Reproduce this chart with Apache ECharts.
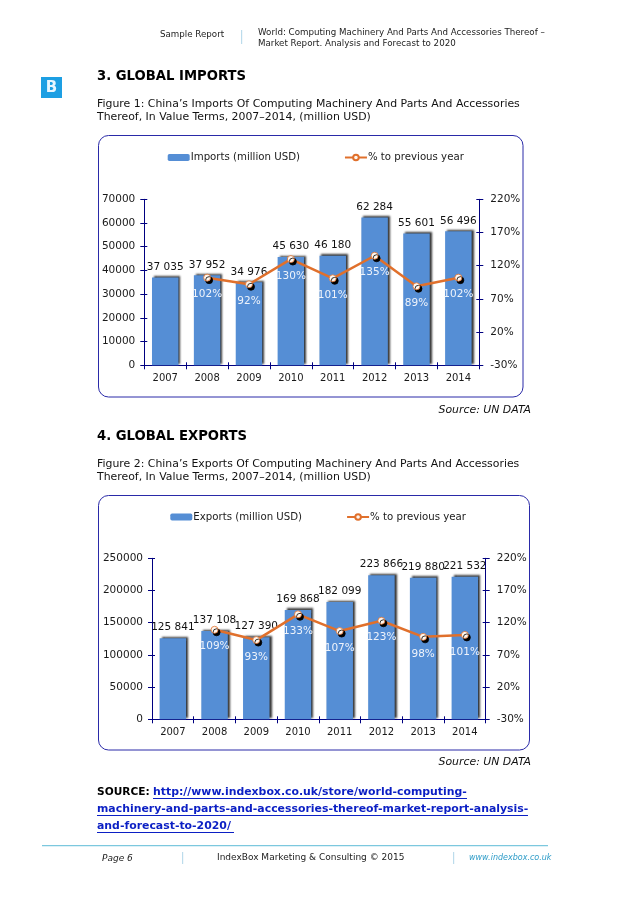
<!DOCTYPE html>
<html><head><meta charset="utf-8">
<style>html,body{margin:0;padding:0;background:#fff}#c{width:638px;height:903px}</style>
<script src="https://cdn.jsdelivr.net/npm/echarts@6/dist/echarts.min.js"></script>
</head><body><div id="c"></div>
<script>
const years = ['2007','2008','2009','2010','2011','2012','2013','2014'];
const importsValues = [37035,37952,34976,45630,46180,62284,55601,56496];
const importsPct = [null,102,92,130,101,135,89,102];
const exportsValues = [125841,137108,127390,169868,182099,223866,219880,221532];
const exportsPct = [null,109,93,133,107,123,98,101];
const FONT = '"DejaVu Sans", Verdana, sans-serif';
const NAVY = '#000080', BAR = '#558ed5', LINE = '#e0702c', INK = '#1a1a1a';

const grids = [
  {left:144.3, top:199.3, width:335, height:166},
  {left:152, top:558.3, width:333.7, height:161}
];
const fmtValue = p => String(p.value).replace(/(\d)(\d{3})$/, '$1 $2');

const xAxis = [], yAxis = [], series = [], legend = [];
function addChart(i, barName, values, pct, leftMax, leftInterval, legendLeft, legendTop) {
  const xBase = xAxis.length, yBase = yAxis.length;
  const xCommon = {type:'category', gridIndex:i, data:years, position:'bottom',
    axisLine:{onZero:false, lineStyle:{color:NAVY, width:1}}};
  xAxis.push({...xCommon, axisTick:{show:true, length:4, lineStyle:{color:NAVY}},
    axisLabel:{color:INK, fontFamily:FONT, fontSize:10, margin:8}});
  xAxis.push({...xCommon, axisLine:{show:false}, axisTick:{show:true, inside:true, length:3, lineStyle:{color:NAVY}}, axisLabel:{show:false}});
  const yl = {type:'value', gridIndex:i, min:0, max:leftMax, interval:leftInterval, position:'left', splitLine:{show:false}};
  const yr = {type:'value', gridIndex:i, min:-30, max:220, interval:50, position:'right', splitLine:{show:false}};
  const line = {show:true, onZero:false, lineStyle:{color:NAVY, width:1}};
  const tick = {show:true, length:4, lineStyle:{color:NAVY}};
  const lab = {color:INK, fontFamily:FONT, fontSize:10.5};
  yAxis.push({...yl, axisLine:line, axisTick:tick, axisLabel:{...lab, margin:9, formatter:v => String(v)}});
  yAxis.push({...yr, axisLine:line, axisTick:tick, axisLabel:{...lab, margin:11, formatter:'{value}%'}});
  const inner = {show:true, inside:true, length:3, lineStyle:{color:NAVY}};
  yAxis.push({...yl, axisLine:{show:false}, axisTick:inner, axisLabel:{show:false}});
  yAxis.push({...yr, axisLine:{show:false}, axisTick:inner, axisLabel:{show:false}});
  const lineName = '% to previous year' + (i ? ' ' : '');
  series.push({type:'bar', name:barName, xAxisIndex:xBase, yAxisIndex:yBase, data:values, barWidth:26.5,
    itemStyle:{color:BAR, shadowColor:'rgba(20,20,20,0.85)', shadowBlur:2, shadowOffsetX:2, shadowOffsetY:-1.5},
    label:{show:true, position:'top', distance:5, color:'#111', fontFamily:FONT, fontSize:10.5, formatter:fmtValue}});
  series.push({type:'line', name:lineName, xAxisIndex:xBase, yAxisIndex:yBase+1, data:pct, z:5,
    symbol:'circle', symbolSize:7, showAllSymbols:true,
    lineStyle:{color:LINE, width:2.5},
    itemStyle:{color:'#fff6ee', borderColor:LINE, borderWidth:0.8, shadowColor:'#000', shadowBlur:0, shadowOffsetX:2, shadowOffsetY:2.5},
    label:{show:true, position:'bottom', distance:7.5, color:'#eef3fb', fontFamily:FONT, fontSize:10.5, formatter:'{c}%'}});
  legend.push({left:legendLeft, top:legendTop, itemGap:44, itemWidth:22, itemHeight:7, padding:0,
    data:[barName, lineName],
    textStyle:{color:INK, fontFamily:FONT, fontSize:10.2, padding:[0,0,0,-4]}});
}
addChart(0,'Imports (million USD)',importsValues,importsPct,70000,10000,167.7,152.5);
addChart(1,'Exports (million USD)',exportsValues,exportsPct,250000,50000,170.3,512);

const T = (x,y,text,o={}) => ({type:'text', x, y, silent:true, style:{text, fill:o.fill||'#111', font:`${o.style||''} ${o.weight||''} ${o.size||10}px ${FONT}`, textVerticalAlign:'middle', textAlign:o.align||'left'}});
const R = (x,y,w,h,fill) => ({type:'rect', silent:true, shape:{x,y,width:w,height:h}, style:{fill}});
const frame = (x,y,w,h) => ({type:'rect', silent:true, z:-1, shape:{x,y,width:w,height:h,r:10}, style:{fill:'#fff', stroke:'#2a2aa8', lineWidth:1}});
const LINK = '#0b1fc4';
const graphic = [
  T(160,35,'Sample Report',{size:8.7,fill:'#222'}),
  R(241,30,1.2,14,'#bcdcec'),
  T(258,33,'World: Computing Machinery And Parts And Accessories Thereof –',{size:8.7,fill:'#222'}),
  T(258,44,'Market Report. Analysis and Forecast to 2020',{size:8.7,fill:'#222'}),
  R(41,77,21,21,'#1d9fe3'),
  T(51.5,88,'B',{size:15,weight:'bold',fill:'#e8f6ff',align:'center'}),
  T(97,77,'3. GLOBAL IMPORTS',{size:13.2,weight:'bold',fill:'#000'}),
  T(97,104,'Figure 1: China’s Imports Of Computing Machinery And Parts And Accessories',{size:10.9}),
  T(97,117,'Thereof, In Value Terms, 2007–2014, (million USD)',{size:10.9}),
  frame(98.5,135.5,424.5,261.5),
  T(531,410,'Source: UN DATA',{size:10.9,style:'italic',align:'right'}),
  T(97,437,'4. GLOBAL EXPORTS',{size:13.2,weight:'bold',fill:'#000'}),
  T(97,464,'Figure 2: China’s Exports Of Computing Machinery And Parts And Accessories',{size:10.9}),
  T(97,477,'Thereof, In Value Terms, 2007–2014, (million USD)',{size:10.9}),
  frame(98.5,495.5,431,254.5),
  T(531,762,'Source: UN DATA',{size:10.9,style:'italic',align:'right'}),
  T(97,792,'SOURCE:',{size:10.6,weight:'bold',fill:'#000'}),
  T(153,792,'http://www.indexbox.co.uk/store/world-computing-',{size:10.9,weight:'bold',fill:LINK}),
  R(153,798,314,1,LINK),
  T(97,809,'machinery-and-parts-and-accessories-thereof-market-report-analysis-',{size:10.9,weight:'bold',fill:LINK}),
  R(97,815,431,1,LINK),
  T(97,826,'and-forecast-to-2020/',{size:10.9,weight:'bold',fill:LINK}),
  R(97,832,137,1,LINK),
  R(42,845,506,1.2,'#7cc8de'),
  T(102,859,'Page 6',{size:9,style:'italic',fill:'#222'}),
  R(182,852,1.2,12,'#bcdcec'),
  T(217,858,'IndexBox Marketing & Consulting © 2015',{size:9,fill:'#222'}),
  R(453,852,1.2,12,'#bcdcec'),
  T(469,858,'www.indexbox.co.uk',{size:8,style:'italic',fill:'#2e9cc8'})
];

const chart = echarts.init(document.getElementById('c'), null, {renderer:'canvas'});
chart.setOption({animation:false, backgroundColor:'#fff', grid:grids, xAxis, yAxis, series, legend, graphic});
</script></body></html>
